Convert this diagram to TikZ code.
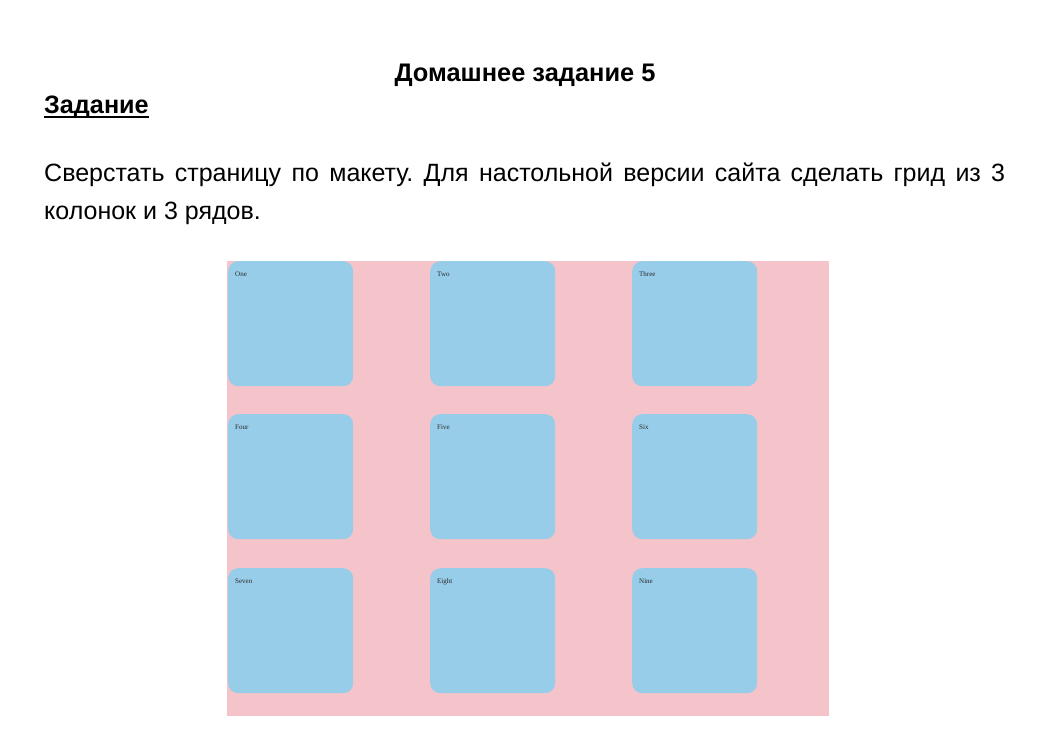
\documentclass[tikz,border=0pt]{standalone}
\usepackage{fontspec}
\setmainfont{Liberation Sans}
\newfontfamily\cellfont{Liberation Serif}
\usetikzlibrary{positioning}
\frenchspacing
\definecolor{gridpink}{HTML}{F5C4CB}
\definecolor{cellblue}{HTML}{97CDE8}
\definecolor{celltext}{HTML}{2A2A2A}
\tikzstyle{cell} = [fill=cellblue,draw=none,rounded corners=10pt,minimum width=125pt,minimum height=125pt,anchor=north west,inner sep=0pt]
\tikzstyle{celllabel} = [anchor=base west,inner sep=0pt,text=celltext,font=\cellfont\fontsize{7}{8}\selectfont]

\begin{document}
\begin{tikzpicture}[x=1pt,y=-1pt]
\useasboundingbox[fill=white] (0,0) rectangle (1054,744);

% Header and task text
\node[anchor=base, inner sep=0pt, font=\bfseries\fontsize{25.4}{30}\selectfont] (title) at (525,81) {Домашнее задание 5};
\node[anchor=base west, inner sep=0pt, font=\bfseries\fontsize{25.2}{30}\selectfont] (task) at (44,113) {Задание};
\draw[line width=2pt] ([yshift=-3.5pt]task.base west) -- ([yshift=-3.5pt]task.base east);
\node[anchor=base west, inner sep=0pt, text width=961pt, align=justify, font=\fontsize{25}{38}\selectfont] (desc) at (44,181)
  {Сверстать страницу по макету. Для настольной версии сайта сделать грид из 3 колонок и 3 рядов.};

% Grid container
\node[fill=gridpink, minimum width=602pt, minimum height=455pt, anchor=north west, inner sep=0pt] (grid) at (227,261) {};

% Define cells
\node[cell] (one)   at (228,261) {};
\node[cell] (two)   at (430,261) {};
\node[cell] (three) at (632,261) {};
\node[cell] (four)  at (228,414) {};
\node[cell] (five)  at (430,414) {};
\node[cell] (six)   at (632,414) {};
\node[cell] (seven) at (228,568) {};
\node[cell] (eight) at (430,568) {};
\node[cell] (nine)  at (632,568) {};

% Cell texts
\node[celllabel] (tone)   at ([shift={(7,15)}]one.north west)   {One};
\node[celllabel] (ttwo)   at ([shift={(7,15)}]two.north west)   {Two};
\node[celllabel] (tthree) at ([shift={(7,15)}]three.north west) {Three};
\node[celllabel] (tfour)  at ([shift={(7,15)}]four.north west)  {Four};
\node[celllabel] (tfive)  at ([shift={(7,15)}]five.north west)  {Five};
\node[celllabel] (tsix)   at ([shift={(7,15)}]six.north west)   {Six};
\node[celllabel] (tseven) at ([shift={(7,15)}]seven.north west) {Seven};
\node[celllabel] (teight) at ([shift={(7,15)}]eight.north west) {Eight};
\node[celllabel] (tnine)  at ([shift={(7,15)}]nine.north west)  {Nine};
\end{tikzpicture}
\end{document}
